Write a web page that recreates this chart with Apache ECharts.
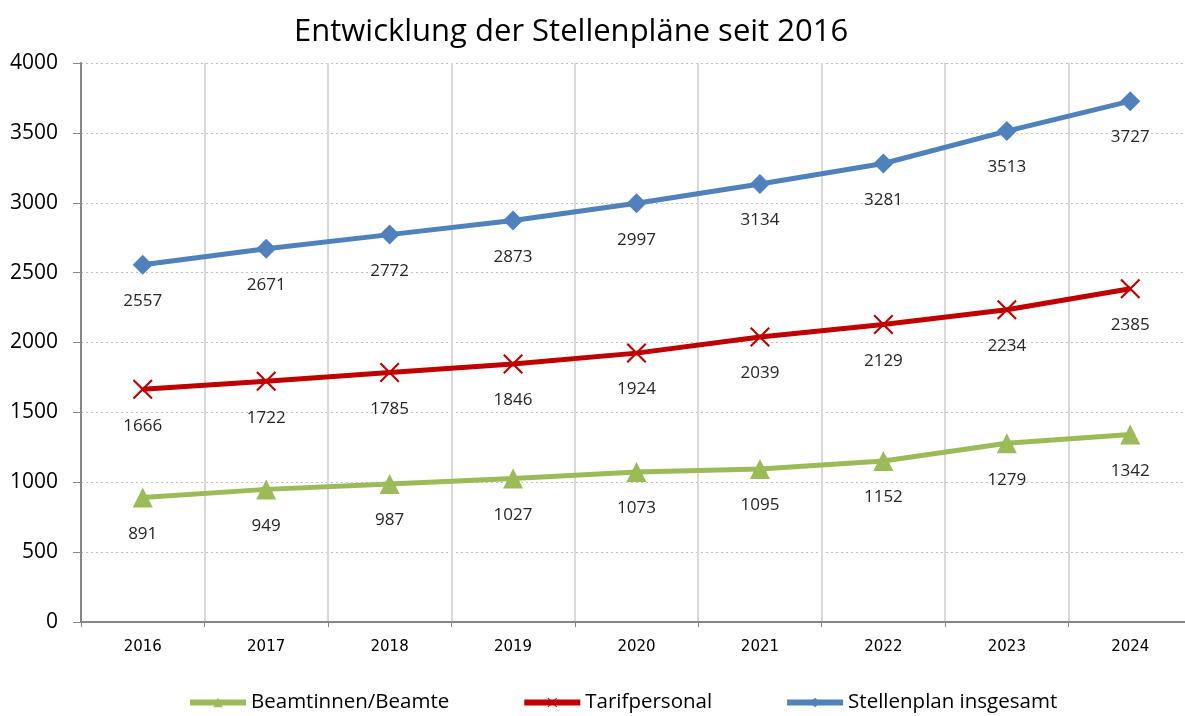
<!DOCTYPE html>
<html>
<head>
<meta charset="utf-8">
<script src="https://cdn.jsdelivr.net/npm/echarts@6/dist/echarts.min.js"></script>
<style>
  html, body { margin: 0; padding: 0; background: #fff; overflow: hidden; }
  /* etwas breiter als das Fenster: rechter Rand ist im Original abgeschnitten */
  #main { width: 1192px; height: 716px; }
</style>
</head>
<body>
<div id="main"></div>
<script>
// Daten
var years = ['2016', '2017', '2018', '2019', '2020', '2021', '2022', '2023', '2024']
var beamte = [891, 949, 987, 1027, 1073, 1095, 1152, 1279, 1342]
var tarif = [1666, 1722, 1785, 1846, 1924, 2039, 2129, 2234, 2385]
var gesamt = [2557, 2671, 2772, 2873, 2997, 3134, 3281, 3513, 3727]
var yTicks = [0, 500, 1000, 1500, 2000, 2500, 3000, 3500, 4000]

var font = 'Open Sans'
var crossPath = 'path://M0,1.5L1.5,0L10,8.5L18.5,0L20,1.5L11.5,10L20,18.5L18.5,20L10,11.5L1.5,20L0,18.5L8.5,10Z'

var labelOption = {
  show: true,
  position: 'bottom',
  distance: 18,
  fontFamily: font,
  fontSize: 17,
  color: '#262626'
}

var myChart = echarts.init(document.getElementById('main'))
var option = {
  animation: false,
  title: {
    text: 'Entwicklung der Stellenpläne seit 2016',
    left: 289,
    top: 12,
    textStyle: { fontFamily: font, fontSize: 31, fontWeight: 'normal', color: '#000' }
  },
  legend: {
    top: 687,
    left: 182,
    itemWidth: 56,
    itemHeight: 12,
    itemGap: 72,
    lineStyle: { width: 6 },
    textStyle: { fontFamily: font, fontSize: 20.5, color: '#000' },
    data: ['Beamtinnen/Beamte', 'Tarifpersonal', 'Stellenplan insgesamt']
  },
  grid: {
    left: 81,
    right: 0,
    top: 63,
    bottom: 94
  },
  xAxis: {
    type: 'category',
    boundaryGap: true,
    data: years,
    axisLine: { lineStyle: { color: '#868686', width: 2 } },
    axisTick: { show: true, length: 5, lineStyle: { color: '#868686', width: 1 } },
    axisLabel: { fontFamily: 'DejaVu Sans', fontSize: 15, color: '#000', margin: 18 },
    splitLine: { show: true, lineStyle: { color: '#d9d9d9', width: 2 } }
  },
  yAxis: {
    type: 'value',
    min: yTicks[0],
    max: yTicks[yTicks.length - 1],
    interval: 500,
    axisLine: { show: true, lineStyle: { color: '#868686', width: 2 } },
    axisTick: { show: true, length: 8, lineStyle: { color: '#868686', width: 1 } },
    axisLabel: {
      fontFamily: font,
      fontSize: 21,
      color: '#000',
      margin: 23,
      formatter: function(v) { return String(v) }
    },
    splitLine: { show: true, lineStyle: { color: '#c0c0c0', width: 1, type: [2, 3] } }
  },
  series: [
    {
      name: 'Beamtinnen/Beamte',
      type: 'line',
      data: beamte,
      symbol: 'triangle',
      symbolSize: 20,
      color: '#9bbb59',
      lineStyle: { width: 5 },
      label: labelOption
    },
    {
      name: 'Tarifpersonal',
      type: 'line',
      data: tarif,
      symbol: crossPath,
      symbolSize: 20,
      color: '#c00000',
      lineStyle: { width: 5 },
      label: labelOption
    },
    {
      name: 'Stellenplan insgesamt',
      type: 'line',
      data: gesamt,
      symbol: 'diamond',
      symbolSize: 20,
      color: '#4f81bd',
      lineStyle: { width: 5 },
      label: labelOption
    }
  ]
}
myChart.setOption(option)
</script>
</body>
</html>
